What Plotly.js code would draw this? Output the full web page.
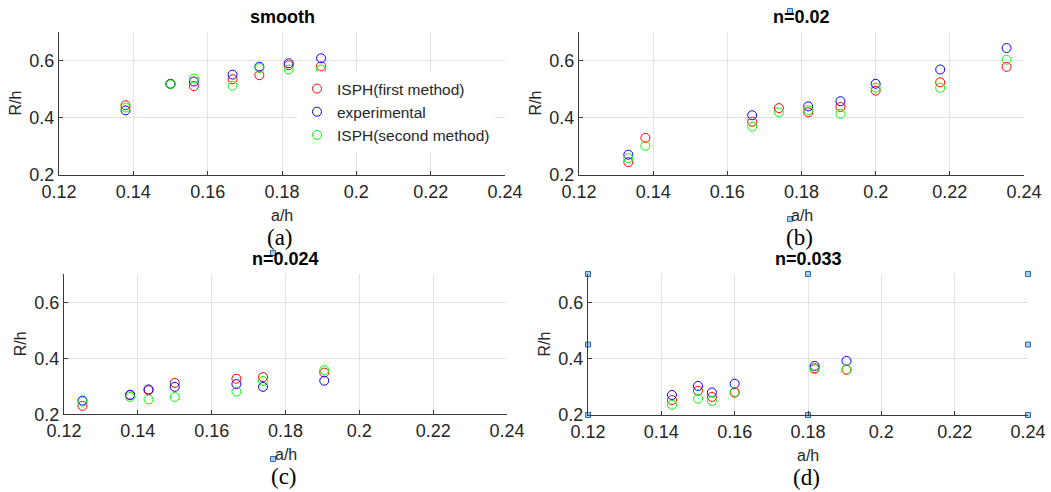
<!DOCTYPE html>
<html>
<head>
<meta charset="utf-8">
<script src="https://cdn.plot.ly/plotly-3.0.1.min.js"></script>
<style>html,body{margin:0;padding:0;background:#fff;}#chart{width:1051px;height:492px;}</style>
</head>
<body>
<div id="chart"></div>
<script>
// ---- data ----
const seriesNames = ["ISPH(first method)", "experimental", "ISPH(second method)"];
const panelTitles = ["smooth", "n=0.02", "n=0.024", "n=0.033"];
const panelLabels = ["(a)", "(b)", "(c)", "(d)"];
const xTickVals = [0.12, 0.14, 0.16, 0.18, 0.2, 0.22, 0.24];
const yTickVals = [0.2, 0.4, 0.6];

const a_x      = [0.1379, 0.15, 0.1563, 0.1667, 0.1739, 0.1818, 0.1905];
const a_first  = [0.444, 0.518, 0.511, 0.535, 0.549, 0.584, 0.580];
const a_exp    = [0.426, 0.519, 0.527, 0.551, 0.579, 0.591, 0.608];
const a_second = [0.436, 0.517, 0.537, 0.512, 0.574, 0.569, 0.569];

const b_x      = [0.1333, 0.1379, 0.1667, 0.1739, 0.1818, 0.1905, 0.2, 0.2174, 0.2353];
const b_first  = [0.245, 0.330, 0.386, 0.434, 0.419, 0.438, 0.495, 0.524, 0.578];
const b_exp    = [0.271, null, 0.409, null, 0.440, 0.458, 0.519, 0.569, 0.644];
const b_second = [0.259, 0.302, 0.369, 0.419, 0.426, 0.414, 0.505, 0.505, 0.603];

const c_x      = [0.125, 0.1379, 0.1429, 0.15, 0.1667, 0.1739, 0.1905];
const c_first  = [0.230, 0.268, 0.286, 0.312, 0.327, 0.333, 0.349];
const c_exp    = [0.249, 0.270, 0.289, 0.298, 0.308, 0.298, 0.320];
const c_second = [0.245, 0.262, 0.253, 0.262, 0.281, 0.319, 0.358];

const d_x      = [0.1429, 0.15, 0.1538, 0.16, 0.1818, 0.1905];
const d_first  = [0.253, 0.286, 0.264, 0.279, 0.366, 0.360];
const d_exp    = [0.271, 0.303, 0.280, 0.311, 0.374, 0.392];
const d_second = [0.236, 0.258, 0.250, 0.282, 0.362, 0.362];

// selection handles visible on panel (d)
const d_handleX = [0.12, 0.12, 0.12, 0.18, 0.18, 0.24, 0.24, 0.24];
const d_handleY = [0.2, 0.45, 0.7, 0.7, 0.2, 0.7, 0.45, 0.2];

// ---- layout helpers ----
const W = 1051, H = 492;
const fx = p => p / W;
const fy = p => 1 - p / H;
const colors = ["rgb(255,0,0)", "rgb(0,0,255)", "rgb(0,255,0)"];
const FONT = "Liberation Sans, Arial, Helvetica, sans-serif";

const panels = [
  {x: a_x, ys: [a_first, a_exp, a_second], xd: [59, 505], yd: [175, 32]},
  {x: b_x, ys: [b_first, b_exp, b_second], xd: [579, 1024], yd: [175, 32]},
  {x: c_x, ys: [c_first, c_exp, c_second], xd: [64, 507], yd: [414.3, 274.3]},
  {x: d_x, ys: [d_first, d_exp, d_second], xd: [588, 1028], yd: [415, 274]}
];

const traces = [];
const layout = {
  width: W, height: H,
  margin: {l: 0, r: 0, t: 0, b: 0},
  paper_bgcolor: "#fff", plot_bgcolor: "rgba(0,0,0,0)",
  font: {family: FONT, color: "#262626"},
  showlegend: true,
  legend: {
    x: fx(297), y: fy(72), xanchor: "left", yanchor: "top",
    bgcolor: "#fff", borderwidth: 0,
    font: {family: FONT, size: 15.5, color: "#262626"},
    tracegroupgap: 0, itemwidth: 30
  },
  annotations: [], shapes: []
};

panels.forEach((p, i) => {
  const n = i + 1;
  const xa = "x" + (n === 1 ? "" : n), ya = "y" + (n === 1 ? "" : n);
  p.ys.forEach((ys, s) => {
    traces.push({
      type: "scatter", mode: "markers", x: p.x, y: ys,
      xaxis: xa, yaxis: ya, name: seriesNames[s],
      showlegend: i === 0, legendgroup: "s" + s,
      marker: {symbol: "circle-open", size: 9, color: colors[s], line: {width: 1, color: colors[s]}},
      hoverinfo: "x+y"
    });
  });
  const axBase = {
    showline: true, linecolor: "#3a3a3a", linewidth: 1,
    ticks: "inside", ticklen: 4, tickcolor: "#3a3a3a",
    showgrid: true, gridcolor: "#e3e3e3", gridwidth: 1, zeroline: false,
    tickfont: {family: FONT, size: 18, color: "#262626"}, fixedrange: true
  };
  layout["xaxis" + (n === 1 ? "" : n)] = Object.assign({}, axBase, {
    domain: [fx(p.xd[0]), fx(p.xd[1])], anchor: ya,
    range: [0.12, 0.24], tickvals: xTickVals, ticktext: xTickVals.map(String)
  });
  layout["yaxis" + (n === 1 ? "" : n)] = Object.assign({}, axBase, {
    domain: [fy(p.yd[0]), fy(p.yd[1])], anchor: xa,
    range: [0.2, 0.7], tickvals: yTickVals, ticktext: yTickVals.map(String)
  });
  const cx = (p.xd[0] + p.xd[1]) / 2;
  // panel title
  layout.annotations.push({
    text: "<b>" + panelTitles[i] + "</b>", xref: "paper", yref: "paper",
    x: fx(cx), y: fy(p.yd[1] - 15), xanchor: "center", yanchor: "middle",
    showarrow: false, font: {family: FONT, size: 18, color: "#000"}
  });
  // x axis title
  layout.annotations.push({
    text: "a/h", xref: "paper", yref: "paper",
    x: fx(cx), y: fy(p.yd[0] + 40), xanchor: "center", yanchor: "middle",
    showarrow: false, font: {family: FONT, size: 16, color: "#262626"}
  });
  // y axis title
  layout.annotations.push({
    text: "R/h", xref: "paper", yref: "paper", textangle: -90,
    x: fx(p.xd[0] - 44), y: fy((p.yd[0] + p.yd[1]) / 2), xanchor: "center", yanchor: "middle",
    showarrow: false, font: {family: FONT, size: 16, color: "#262626"}
  });
  // sub-figure label
  layout.annotations.push({
    text: panelLabels[i], xref: "paper", yref: "paper",
    x: fx(cx - 2), y: fy(p.yd[0] + 62), xanchor: "center", yanchor: "middle",
    showarrow: false, font: {family: "Liberation Serif, Times New Roman, serif", size: 23, color: "#000"}
  });
});

// handles on panel (d)
traces.push({
  type: "scatter", mode: "markers", x: d_handleX, y: d_handleY,
  xaxis: "x4", yaxis: "y4", showlegend: false, cliponaxis: false, hoverinfo: "skip",
  marker: {symbol: "square", size: 5, color: "rgb(170,205,235)", line: {width: 1, color: "rgb(40,110,180)"}}
});
// small stray handles near titles / labels of (b) and (c)
[[790, 11], [790, 219], [273, 253], [273, 459]].forEach(([px, py]) => {
  layout.shapes.push({
    type: "rect", xref: "paper", yref: "paper",
    x0: fx(px - 2.5), x1: fx(px + 2.5), y0: fy(py + 2.5), y1: fy(py - 2.5),
    fillcolor: "rgb(170,205,235)", line: {color: "rgb(40,110,180)", width: 1}
  });
});

Plotly.newPlot("chart", traces, layout, {staticPlot: true, displayModeBar: false});
</script>
</body>
</html>
